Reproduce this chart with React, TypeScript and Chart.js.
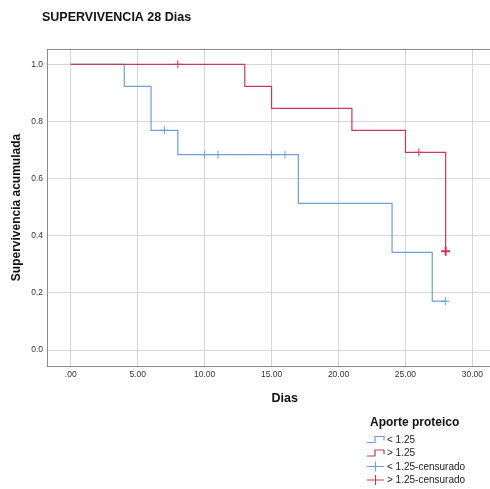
import React, { useEffect, useRef } from 'react';
import { Chart, registerables } from 'chart.js';

Chart.register(...registerables);

const FONT = 'Arial, "Liberation Sans", sans-serif';

const chartTitle = 'SUPERVIVENCIA 28 Dias';
const xAxisTitle = 'Dias';
const yAxisTitle = 'Supervivencia acumulada';
const legendTitle = 'Aporte proteico';
const seriesNames = ['< 1.25', '> 1.25', '< 1.25-censurado', '> 1.25-censurado'];

const xTickValues = [0, 5, 10, 15, 20, 25, 30];
const yTickValues = [0, 0.2, 0.4, 0.6, 0.8, 1.0];

// Kaplan-Meier steps, group "< 1.25"
const lowTimes = [0, 4, 6, 8, 17, 24, 27, 28];
const lowSurv = [1.0, 0.923, 0.769, 0.684, 0.513, 0.342, 0.171, 0.171];
// censored, group "< 1.25"
const lowCensTimes = [7, 10, 11, 15, 16, 28];
const lowCensSurv = [0.769, 0.684, 0.684, 0.684, 0.684, 0.171];

// Kaplan-Meier steps, group "> 1.25"
const highTimes = [0, 13, 15, 21, 25, 28];
const highSurv = [1.0, 0.923, 0.846, 0.769, 0.692, 0.346];
// censored, group "> 1.25"
const highCensTimes = [8, 26, 28];
const highCensSurv = [1.0, 0.692, 0.346];

const BLUE = '#6f9fd6';
const RED = '#cc3760';
const GRID = '#d5d5d5';
const BORDER = '#8a8a8a';

const toPts = (xs: number[], ys: number[]) => xs.map((x, i) => ({ x, y: ys[i] }));

const overlayPlugin = {
  id: 'overlay',
  afterDraw(chart: any) {
    const { ctx, chartArea } = chart;
    ctx.save();
    // top border of plot frame
    ctx.strokeStyle = BORDER;
    ctx.lineWidth = 1;
    ctx.beginPath();
    ctx.moveTo(chartArea.left, chartArea.top + 0.5);
    ctx.lineTo(chartArea.right, chartArea.top + 0.5);
    ctx.stroke();

    // chart title
    ctx.fillStyle = '#111';
    ctx.font = `bold 12.5px ${FONT}`;
    ctx.textAlign = 'left';
    ctx.textBaseline = 'middle';
    ctx.fillText(chartTitle, 42, 17.5);

    // legend
    ctx.font = `bold 12px ${FONT}`;
    ctx.fillText(legendTitle, 370, 423);
    ctx.font = `10px ${FONT}`;
    const rows = [439.5, 453, 466.5, 480];
    const colors = [BLUE, RED, BLUE, RED];
    rows.forEach((y, i) => {
      ctx.strokeStyle = colors[i];
      ctx.lineWidth = 1.2;
      ctx.beginPath();
      if (i < 2) {
        ctx.moveTo(367, y + 3);
        ctx.lineTo(375, y + 3);
        ctx.lineTo(375, y - 3);
        ctx.lineTo(384, y - 3);
        ctx.lineTo(384, y + 1);
      } else {
        ctx.moveTo(367, y);
        ctx.lineTo(384, y);
        ctx.moveTo(375.5, y - 5);
        ctx.lineTo(375.5, y + 5);
      }
      ctx.stroke();
      ctx.fillStyle = '#222';
      ctx.fillText(seriesNames[i], 387, y + 0.5);
    });
    ctx.restore();
  },
};

export default function App() {
  const ref = useRef<HTMLCanvasElement | null>(null);

  useEffect(() => {
    if (!ref.current) return;
    const chart = new Chart(ref.current, {
      type: 'line',
      data: {
        datasets: [
          {
            label: seriesNames[0],
            data: toPts(lowTimes, lowSurv),
            borderColor: BLUE,
            borderWidth: 1.2,
            stepped: 'before',
            pointRadius: 0,
            fill: false,
            order: 3,
          },
          {
            label: seriesNames[1],
            data: toPts(highTimes, highSurv),
            borderColor: RED,
            borderWidth: 1.2,
            stepped: 'before',
            pointRadius: 0,
            fill: false,
            order: 2,
          },
          {
            label: seriesNames[2],
            type: 'scatter',
            data: toPts(lowCensTimes, lowCensSurv),
            borderColor: BLUE,
            backgroundColor: BLUE,
            pointStyle: 'cross',
            pointRadius: 4,
            pointBorderWidth: 1,
            showLine: false,
            order: 1,
          } as any,
          {
            label: seriesNames[3],
            type: 'scatter',
            data: toPts(highCensTimes, highCensSurv),
            borderColor: RED,
            backgroundColor: RED,
            pointStyle: 'cross',
            pointRadius: [4, 4, 4.5],
            pointBorderWidth: [1, 1, 2],
            showLine: false,
            order: 0,
          } as any,
        ],
      },
      options: {
        responsive: false,
        animation: false,
        layout: { padding: { top: 49, left: 0, right: 0, bottom: 0 } },
        plugins: {
          legend: { display: false },
          title: { display: false },
          tooltip: { enabled: false },
        },
        scales: {
          x: {
            type: 'linear',
            position: 'bottom',
            min: -1.77,
            max: 33.74,
            afterFit: (s: any) => {
              s.height = 123;
              s.paddingLeft = 0;
              s.paddingRight = 0;
            },
            afterBuildTicks: (s: any) => {
              s.ticks = xTickValues.map((v) => ({ value: v }));
            },
            grid: { color: GRID, lineWidth: 1, drawTicks: false },
            border: { color: BORDER, width: 1 },
            ticks: {
              padding: 4,
              color: '#333',
              font: { size: 8.5, family: FONT },
              maxRotation: 0,
              autoSkip: false,
              callback: (v: any) => (Number(v) === 0 ? '.00' : Number(v).toFixed(2)),
            },
            title: {
              display: true,
              text: xAxisTitle,
              color: '#111',
              font: { size: 12.5, weight: 'bold', family: FONT },
              padding: { top: 0, bottom: 83 },
            },
          },
          y: {
            type: 'linear',
            position: 'left',
            min: -0.056,
            max: 1.0536,
            afterFit: (s: any) => {
              s.width = 47;
              s.paddingTop = 0;
              s.paddingBottom = 0;
            },
            afterBuildTicks: (s: any) => {
              s.ticks = yTickValues.map((v) => ({ value: v }));
            },
            grid: { color: GRID, lineWidth: 1, drawTicks: false },
            border: { color: BORDER, width: 1 },
            ticks: {
              padding: 4,
              color: '#333',
              font: { size: 8.5, family: FONT },
              callback: (v: any) => Number(v).toFixed(1),
            },
            title: {
              display: true,
              text: yAxisTitle,
              color: '#111',
              font: { size: 12, weight: 'bold', family: FONT },
              padding: { top: 9, bottom: 0 },
            },
          },
        },
      } as any,
      plugins: [overlayPlugin],
    });
    return () => chart.destroy();
  }, []);

  return (
    <div
      style={{
        position: 'absolute',
        left: 0,
        top: 0,
        width: 490,
        height: 489,
        overflow: 'hidden',
        background: '#fff',
      }}
    >
      <canvas ref={ref} width={529} height={489} style={{ display: 'block' }} />
    </div>
  );
}
